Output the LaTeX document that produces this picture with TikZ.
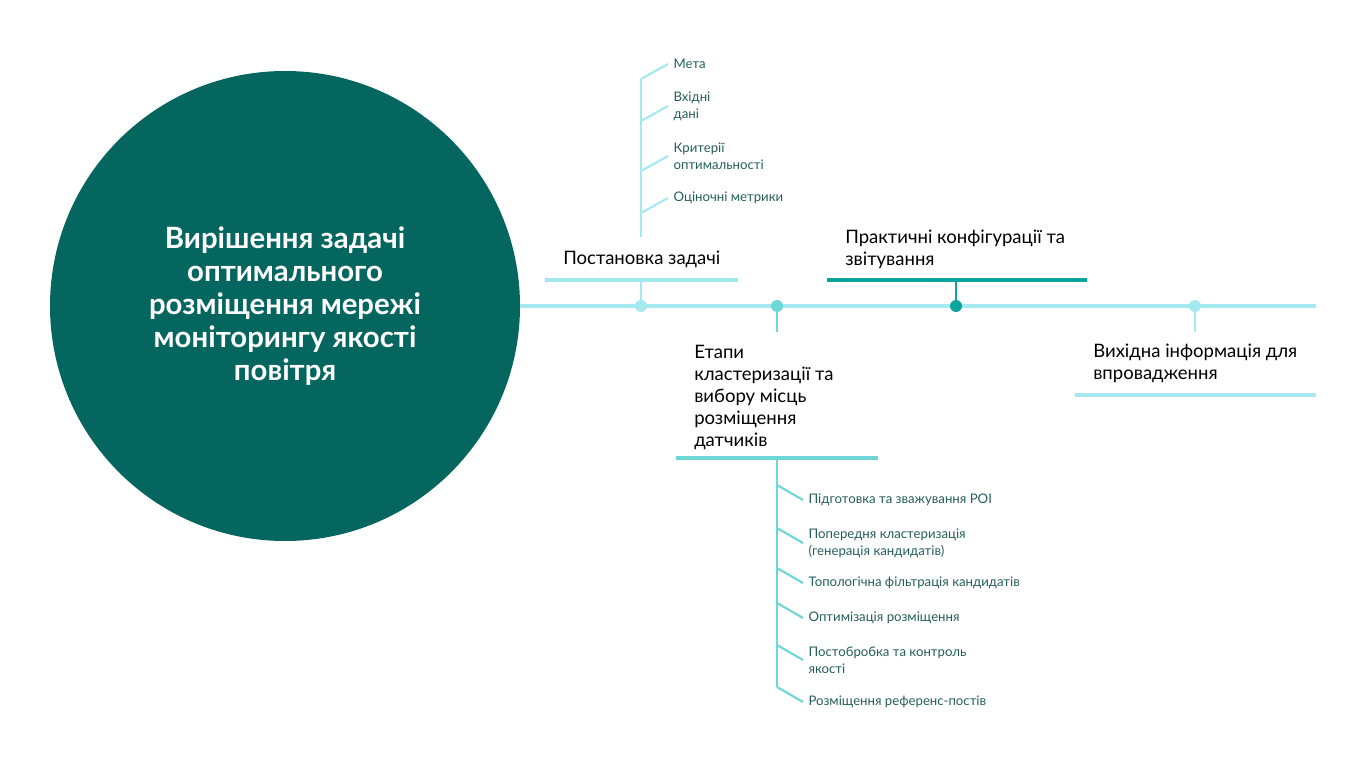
\documentclass[tikz,border=0pt]{standalone}
\usepackage{fontspec}
\setmainfont{Lato}

\begin{document}
\begin{tikzpicture}[x=0.75pt, y=-0.75pt]
    % --- кольори ---
    \definecolor{hubteal}{HTML}{05665F}
    \definecolor{lightcyan}{HTML}{A3E9EF}
    \definecolor{midcyan}{HTML}{6DD6D6}
    \definecolor{deepteal}{HTML}{0BA59E}
    \definecolor{subtext}{HTML}{245E5A}

    % --- стилі ---
    \tikzset{Hub/.style = {
        circle,                 % коло
        fill=hubteal,           % заливка
        minimum size=352.5pt,   % діаметр
        inner sep=0pt,
        align=center,
        text=white,
        font=\fontsize{22}{24.75}\selectfont\bfseries
    }}
    \tikzset{Dot/.style = {
        circle, inner sep=0pt, minimum size=9pt
    }}
    \tikzset{Spine/.style = {line width=2.5pt, draw=lightcyan}}
    \tikzset{Bar/.style = {line width=2.5pt}}
    \tikzset{Stem/.style = {line width=2.2pt}}
    \tikzset{Twig/.style = {line width=1.6pt}}
    \tikzset{Head/.style = {
        anchor=west, inner sep=0pt, align=left, text=black,
        font=\fontsize{13.9}{16.5}\selectfont
    }}
    \tikzset{Sub/.style = {
        anchor=west, inner xsep=4pt, inner ysep=0pt, align=left, text=subtext,
        font=\fontsize{9.9}{12.75}\selectfont
    }}

    \useasboundingbox (0,0) rectangle (1367,766);

    % --- центральне коло ---
    \node[Hub] (Hub) at (285,306)
        {Вирішення задачі\\оптимального\\розміщення мережі\\моніторингу якості\\повітря};

    % --- головна лінія ---
    \coordinate (SpineEnd) at (1316,306);
    \draw[Spine] (Hub.east) -- (SpineEnd);

    % --- точки на лінії ---
    \node[Dot, fill=lightcyan] (D1) at (641,306) {};
    \node[Dot, fill=midcyan]   (D2) at (777,306) {};
    \node[Dot, fill=deepteal]  (D3) at (956,306) {};
    \node[Dot, fill=lightcyan] (D4) at (1195,306) {};

    % --- гілка 1: постановка задачі ---
    \coordinate (B1L) at (545,280);
    \coordinate (B1R) at (738,280);
    \draw[Bar, lightcyan] (B1L) -- (B1R);
    \draw[Stem, lightcyan] (D1) -- (D1 |- B1L);
    \node[Head] (T1) at (563,259) {Постановка задачі};
    \coordinate (S1Bot) at (641,237);
    \coordinate (S1Top) at (641,79);
    \draw[Stem, lightcyan] (S1Bot) -- (S1Top);
    \foreach \name/\txt/\y in {P1/{Мета}/64, P2/{Вхідні\\дані}/106,
        P3/{Критерії\\оптимальності}/156, P4/{Оціночні метрики}/198} {
        \node[Sub] (\name) at (668,\y) {\txt};
        \draw[Twig, lightcyan] (\name.west) -- ++(-27,15);
    }

    % --- гілка 2: етапи кластеризації ---
    \coordinate (S2A) at (777,332);
    \draw[Stem, midcyan] (D2) -- (S2A);
    \node[Head] (T2) at (694,397)
        {Етапи\\кластеризації та\\вибору місць\\розміщення\\датчиків};
    \coordinate (B2L) at (676,458);
    \coordinate (B2R) at (878,458);
    \draw[Bar, midcyan] (B2L) -- (B2R);
    \coordinate (S2Top) at (777,458);
    \coordinate (S2Bot) at (777,687);
    \draw[Stem, midcyan] (S2Top) -- (S2Bot);
    \foreach \name/\txt/\y in {Q1/{Підготовка та зважування POI}/500,
        Q2/{Попередня кластеризація\\(генерація кандидатів)}/543,
        Q3/{Топологічна фільтрація кандидатів}/583,
        Q4/{Оптимізація розміщення}/618,
        Q5/{Постобробка та контроль\\якості}/660,
        Q6/{Розміщення референс-постів}/702} {
        \node[Sub] (\name) at (803,\y) {\txt};
        \draw[Twig, midcyan] (\name.west) -- ++(-26,-15);
    }

    % --- гілка 3: практичні конфігурації ---
    \coordinate (B3L) at (827,280);
    \coordinate (B3R) at (1087,280);
    \draw[Bar, deepteal] (B3L) -- (B3R);
    \draw[Stem, deepteal] (D3) -- (D3 |- B3L);
    \node[Head] (T3) at (845,249) {Практичні конфігурації та\\звітування};

    % --- гілка 4: вихідна інформація ---
    \coordinate (S4A) at (1195,332);
    \draw[Stem, lightcyan] (D4) -- (S4A);
    \node[Head] (T4) at (1093,363) {Вихідна інформація для\\впровадження};
    \coordinate (B4L) at (1075,395);
    \coordinate (B4R) at (1316,395);
    \draw[Bar, lightcyan] (B4L) -- (B4R);

\end{tikzpicture}
\end{document}
